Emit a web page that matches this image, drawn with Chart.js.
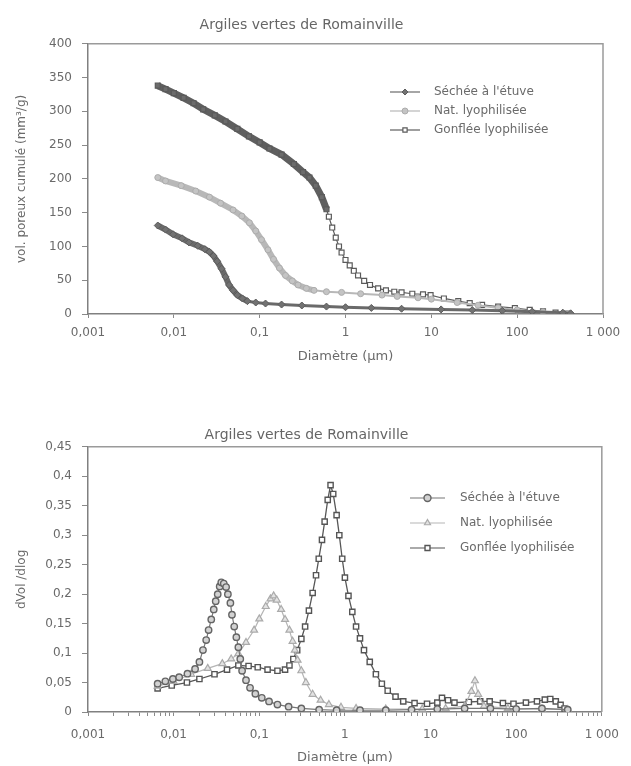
<!DOCTYPE html>
<html lang="fr">
<head>
<meta charset="utf-8">
<title>Argiles vertes de Romainville</title>
<script src="https://cdn.jsdelivr.net/npm/chart.js@4.4.1/dist/chart.umd.min.js"></script>
<style>
  html, body { margin: 0; padding: 0; background: #fff; }
  .panel { position: absolute; left: 0; width: 631px; }
  #panel-cumul { top: 0; height: 385px; }
  #panel-deriv { top: 385px; height: 381px; }
</style>
</head>
<body>
<div class="panel" id="panel-cumul"><canvas id="cumulChart" width="631" height="385"></canvas></div>
<div class="panel" id="panel-deriv"><canvas id="derivChart" width="631" height="381"></canvas></div>
<script>
const seriesLabels = ['Séchée à l\'étuve', 'Nat. lyophilisée', 'Gonflée lyophilisée'];

const xTickValues = [0.001, 0.01, 0.1, 1, 10, 100, 1000];
const xTickLabels = ['0,001', '0,01', '0,1', '1', '10', '100', '1 000'];
const cumulYTicks = [0, 50, 100, 150, 200, 250, 300, 350, 400];
const derivYTicks = [0, 0.05, 0.1, 0.15, 0.2, 0.25, 0.3, 0.35, 0.4, 0.45];

// volume poreux cumulé (mm3/g) en fonction du diamètre (µm)
const cumulSecheeDiam = [0.0065, 0.008, 0.0098, 0.0125, 0.015, 0.019, 0.023, 0.026, 0.029, 0.032, 0.036, 0.04, 0.044, 0.049, 0.055, 0.063, 0.072, 0.09, 0.117, 0.18, 0.31, 0.6, 1, 2, 4.5, 13, 30, 67, 150, 340, 420];
const cumulSecheeVol = [131, 125, 118, 112, 106, 101, 96, 92, 86, 78, 67, 55, 43, 35, 28, 23, 19, 17, 15.5, 14, 12.6, 11, 10, 9, 7.8, 6.8, 5.8, 4.8, 3.5, 2, 1];

const cumulNatDiam = [0.0065, 0.008, 0.0122, 0.018, 0.026, 0.035, 0.049, 0.062, 0.076, 0.09, 0.105, 0.125, 0.145, 0.17, 0.2, 0.24, 0.28, 0.35, 0.43, 0.6, 0.9, 1.5, 2.66, 4, 7, 10, 20, 35, 60, 100, 200, 400];
const cumulNatVol = [202, 197, 190, 182, 173, 164, 154, 145, 135, 123, 110, 95, 81, 68, 57, 49, 43, 38, 35, 33, 32, 30, 28, 26, 24, 22, 17, 13, 9, 6, 3, 0.5];

const cumulGonfleeDiam = [0.0065, 0.008, 0.01, 0.013, 0.017, 0.022, 0.03, 0.04, 0.055, 0.075, 0.1, 0.13, 0.18, 0.25, 0.32, 0.38, 0.45, 0.53, 0.6, 0.64, 0.7, 0.77, 0.84, 0.9, 1.0, 1.12, 1.25, 1.4, 1.65, 1.93, 2.4, 2.96, 3.7, 4.5, 6, 8, 9.8, 14, 20.6, 28, 39, 60, 94, 140, 200, 280, 380];
const cumulGonfleeVol = [338, 333, 327, 320, 312, 303, 294, 285, 274, 263, 254, 245, 236, 222, 210, 202, 190, 173, 155, 144, 128, 113, 100, 91, 80, 72, 64, 57, 49, 43, 38, 35, 33, 32, 30, 29, 28, 23, 19, 16, 13.6, 11, 8.7, 6, 3.9, 2, 0.5];

// dérivée dVol/dlog D
const derivSecheeDiam = [0.0065, 0.008, 0.0098, 0.0116, 0.0145, 0.0178, 0.02, 0.022, 0.024, 0.0256, 0.0275, 0.0294, 0.031, 0.0327, 0.0345, 0.036, 0.0385, 0.041, 0.043, 0.046, 0.048, 0.051, 0.054, 0.057, 0.06, 0.063, 0.07, 0.078, 0.09, 0.107, 0.13, 0.163, 0.22, 0.31, 0.5, 0.8, 1.5, 3, 6, 12, 25, 50, 100, 200, 400];
const derivSecheeVal = [0.048, 0.052, 0.056, 0.059, 0.065, 0.073, 0.085, 0.105, 0.122, 0.139, 0.157, 0.174, 0.188, 0.2, 0.213, 0.22, 0.218, 0.212, 0.2, 0.185, 0.165, 0.145, 0.127, 0.11, 0.09, 0.07, 0.054, 0.041, 0.031, 0.024, 0.018, 0.0126, 0.009, 0.006, 0.004, 0.003, 0.003, 0.003, 0.004, 0.005, 0.006, 0.006, 0.005, 0.006, 0.004];

const derivNatDiam = [0.0065, 0.01, 0.016, 0.025, 0.037, 0.047, 0.057, 0.07, 0.087, 0.1, 0.119, 0.135, 0.147, 0.16, 0.18, 0.2, 0.225, 0.245, 0.26, 0.28, 0.31, 0.35, 0.42, 0.52, 0.65, 0.9, 1.35, 3, 8, 15, 25, 30, 33, 36, 42, 80, 200, 400];
const derivNatVal = [0.044, 0.052, 0.064, 0.074, 0.082, 0.09, 0.099, 0.118, 0.139, 0.158, 0.179, 0.192, 0.197, 0.19, 0.174, 0.157, 0.139, 0.12, 0.105, 0.088, 0.07, 0.05, 0.03, 0.02, 0.0126, 0.008, 0.006, 0.005, 0.005, 0.006, 0.01, 0.035, 0.053, 0.03, 0.01, 0.006, 0.005, 0.004];

const derivGonfleeDiam = [0.0065, 0.0095, 0.0143, 0.02, 0.03, 0.042, 0.057, 0.075, 0.096, 0.125, 0.163, 0.2, 0.225, 0.25, 0.277, 0.31, 0.343, 0.38, 0.42, 0.46, 0.495, 0.54, 0.58, 0.63, 0.68, 0.73, 0.8, 0.86, 0.93, 1.0, 1.1, 1.22, 1.35, 1.5, 1.67, 1.95, 2.3, 2.7, 3.16, 3.9, 4.8, 6.5, 9.1, 12, 13.6, 16, 19, 28, 38, 49, 70, 93, 130, 175, 216, 250, 290, 330, 367, 400];
const derivGonfleeVal = [0.04, 0.045, 0.05, 0.056, 0.064, 0.072, 0.079, 0.078, 0.076, 0.072, 0.07, 0.072, 0.079, 0.09, 0.105, 0.124, 0.145, 0.172, 0.202, 0.232, 0.26, 0.292, 0.323, 0.36, 0.385, 0.37, 0.334, 0.3, 0.26, 0.228, 0.197, 0.17, 0.145, 0.125, 0.105, 0.085, 0.064, 0.048, 0.036, 0.026, 0.018, 0.015, 0.014, 0.016, 0.024, 0.02, 0.016, 0.017, 0.018, 0.018, 0.015, 0.014, 0.016, 0.018, 0.021, 0.022, 0.018, 0.012, 0.006, 0.002];

Chart.defaults.font.family = '"DejaVu Sans", sans-serif';
Chart.defaults.color = '#6a6a6a';

const toPoints = (xs, ys) => xs.map((x, i) => ({ x, y: ys[i] }));

const xLabel = (value) => {
  const i = xTickValues.findIndex((t) => Math.abs(Math.log10(t) - Math.log10(value)) < 1e-6);
  return i >= 0 ? xTickLabels[i] : '';
};

const decimalComma = (v) => String(Number(v.toFixed(2))).replace('.', ',');

// all 1..9 multiples of each decade, only the decades get a label
const withMinorTicks = () => {
  const out = [];
  for (let i = 0; i < xTickValues.length - 1; i++) {
    for (let m = 1; m < 10; m++) out.push(xTickValues[i] * m);
  }
  out.push(xTickValues[xTickValues.length - 1]);
  return out;
};

// the mercury steps are packed tight at small diameters: the markers merge into a band there
const bandUntil = (limit, wide, thin) => (ctx) => (ctx.p1.parsed.x <= limit ? wide : thin);

// top and right edges of the plot box
const framePlugin = {
  id: 'frame',
  afterDatasetsDraw(chart) {
    const { ctx, chartArea: a } = chart;
    ctx.save();
    ctx.strokeStyle = '#9a9a9a';
    ctx.lineWidth = 1.5;
    ctx.beginPath();
    ctx.moveTo(a.left, a.top);
    ctx.lineTo(a.right, a.top);
    ctx.lineTo(a.right, a.bottom);
    ctx.stroke();
    ctx.restore();
  },
};

// legend drawn inside the plot area
const insetLegend = {
  id: 'insetLegend',
  afterDraw(chart, args, opts) {
    const { ctx } = chart;
    ctx.save();
    ctx.font = '12px "DejaVu Sans"';
    ctx.textBaseline = 'middle';
    chart.data.datasets.forEach((ds, i) => {
      const y = opts.y + i * opts.gap;
      ctx.strokeStyle = ds.borderColor;
      ctx.lineWidth = 1.2;
      ctx.beginPath();
      ctx.moveTo(opts.x, y);
      ctx.lineTo(opts.x + opts.len, y);
      ctx.stroke();
      ctx.fillStyle = ds.legendFill || ds.pointBackgroundColor;
      ctx.strokeStyle = ds.pointBorderColor;
      ctx.lineWidth = ds.pointBorderWidth;
      Chart.helpers.drawPoint(ctx, {
        pointStyle: ds.pointStyle,
        radius: opts.radius,
        borderWidth: ds.pointBorderWidth,
        rotation: 0,
      }, opts.x + opts.len / 2, y);
      ctx.fillStyle = '#6a6a6a';
      ctx.fillText(ds.label, opts.x + opts.len + opts.textGap, y);
    });
    ctx.restore();
  },
};

function makeOptions(cfg) {
  return {
    responsive: false,
    animation: false,
    layout: { padding: { left: 0, right: cfg.padRight, top: 0, bottom: 0 } },
    plugins: {
      legend: { display: false },
      tooltip: { enabled: false },
      title: {
        display: true,
        text: 'Argiles vertes de Romainville',
        color: '#666',
        font: { size: 14, weight: 'normal' },
        padding: cfg.titlePad,
      },
      insetLegend: cfg.legend,
    },
    scales: {
      x: {
        type: 'logarithmic',
        min: 0.001,
        max: 1000,
        afterBuildTicks: (scale) => {
          scale.ticks = cfg.xTicks.map((v) => ({ value: v }));
        },
        afterFit: (scale) => { scale.height = cfg.xHeight; },
        ticks: {
          autoSkip: false,
          maxRotation: 0,
          padding: cfg.xLabelPad,
          font: { size: 12 },
          callback: (v) => xLabel(v),
        },
        grid: { drawOnChartArea: false, tickLength: 4, color: '#8a8a8a' },
        border: { color: '#808080', width: 1.5 },
        title: {
          display: true,
          text: 'Diamètre (µm)',
          font: { size: 13 },
          padding: { top: 0, bottom: cfg.xTitlePad },
        },
      },
      y: {
        min: cfg.yTicks[0],
        max: cfg.yTicks[cfg.yTicks.length - 1],
        afterBuildTicks: (scale) => {
          scale.ticks = cfg.yTicks.map((v) => ({ value: v }));
        },
        afterFit: (scale) => { scale.width = 88; },
        ticks: { padding: 10, font: { size: 12 }, callback: (v) => decimalComma(v) },
        grid: { drawOnChartArea: false, tickLength: 6, color: '#8a8a8a' },
        border: { color: '#808080', width: 1.5 },
        title: {
          display: true,
          text: cfg.yTitle,
          font: { size: 12 },
          padding: { top: 15, bottom: 0 },
        },
      },
    },
  };
}

new Chart(document.getElementById('cumulChart'), {
  type: 'scatter',
  data: {
    datasets: [
      {
        label: seriesLabels[0],
        data: toPoints(cumulSecheeDiam, cumulSecheeVol),
        showLine: true,
        borderColor: '#6a6a6a',
        borderWidth: 1.5,
        segment: { borderWidth: bandUntil(0.075, 6, 3) },
        pointStyle: 'rectRot',
        pointRadius: 3.5,
        pointBackgroundColor: '#727272',
        pointBorderColor: '#5c5c5c',
        pointBorderWidth: 1,
      },
      {
        label: seriesLabels[1],
        data: toPoints(cumulNatDiam, cumulNatVol),
        showLine: true,
        borderColor: '#b8b8b8',
        borderWidth: 1.5,
        segment: { borderWidth: bandUntil(0.45, 6, 2) },
        pointStyle: 'circle',
        pointRadius: 3,
        pointBackgroundColor: '#c4c4c4',
        pointBorderColor: '#acacac',
        pointBorderWidth: 1,
      },
      {
        label: seriesLabels[2],
        data: toPoints(cumulGonfleeDiam, cumulGonfleeVol),
        showLine: true,
        borderColor: '#5f5f5f',
        borderWidth: 1.5,
        segment: { borderWidth: bandUntil(0.62, 7, 1.2) },
        pointStyle: 'rect',
        pointRadius: 3.5,
        pointBackgroundColor: (ctx) => (ctx.raw && ctx.raw.x < 0.62 ? '#6c6c6c' : '#ffffff'),
        legendFill: '#ffffff',
        pointBorderColor: '#5a5a5a',
        pointBorderWidth: 1.2,
      },
    ],
  },
  options: makeOptions({
    padRight: 28,
    titlePad: { top: 17, bottom: 10 },
    xTicks: xTickValues,
    xHeight: 71,
    xLabelPad: 8,
    xTitlePad: 21,
    yTicks: cumulYTicks,
    yTitle: 'vol. poreux cumulé (mm³/g)',
    legend: { x: 390, y: 92, gap: 19, len: 30, textGap: 14, radius: 3 },
  }),
  plugins: [framePlugin, insetLegend],
});

new Chart(document.getElementById('derivChart'), {
  type: 'scatter',
  data: {
    datasets: [
      {
        label: seriesLabels[0],
        data: toPoints(derivSecheeDiam, derivSecheeVal),
        showLine: true,
        borderColor: '#777777',
        borderWidth: 1.2,
        pointStyle: 'circle',
        pointRadius: 3.2,
        pointBackgroundColor: '#d2d2d2',
        pointBorderColor: '#656565',
        pointBorderWidth: 1.4,
      },
      {
        label: seriesLabels[1],
        data: toPoints(derivNatDiam, derivNatVal),
        showLine: true,
        borderColor: '#b5b5b5',
        borderWidth: 1.2,
        pointStyle: 'triangle',
        pointRadius: 4,
        pointBackgroundColor: '#e2e2e2',
        pointBorderColor: '#ababab',
        pointBorderWidth: 1.2,
      },
      {
        label: seriesLabels[2],
        data: toPoints(derivGonfleeDiam, derivGonfleeVal),
        showLine: true,
        borderColor: '#575757',
        borderWidth: 1.3,
        pointStyle: 'rect',
        pointRadius: 3.7,
        pointBackgroundColor: '#ffffff',
        pointBorderColor: '#555555',
        pointBorderWidth: 1.4,
      },
    ],
  },
  options: makeOptions({
    padRight: 18,
    titlePad: { top: 42, bottom: 3 },
    xTicks: withMinorTicks(),
    xHeight: 54,
    xLabelPad: 12,
    xTitlePad: 1,
    yTicks: derivYTicks,
    yTitle: 'dVol /dlog',
    legend: { x: 410, y: 113, gap: 25, len: 35, textGap: 15, radius: 3.5 },
  }),
  plugins: [framePlugin, insetLegend],
});
</script>
</body>
</html>
